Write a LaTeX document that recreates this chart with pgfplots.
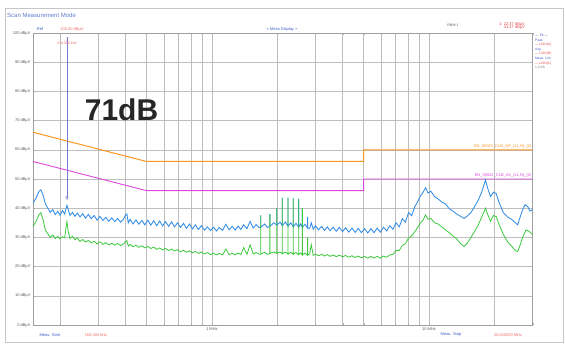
\documentclass[border=0pt]{standalone}
\usepackage{fontspec}
\setmainfont{Liberation Sans}
\usepackage{pgfplots}
\pgfplotsset{compat=1.18}
\definecolor{trblue}{RGB}{50,140,230}
\definecolor{trgreen}{RGB}{60,200,60}
\definecolor{limorange}{RGB}{250,150,30}
\definecolor{limmag}{RGB}{220,70,220}
\definecolor{gridc}{RGB}{190,190,190}
\definecolor{labblue}{RGB}{60,90,200}
\definecolor{labred}{RGB}{230,70,70}

\pgfplotstableread{
f db
0.150 41.7
0.155 43.5
0.160 45.8
0.163 46.3
0.167 44.5
0.171 41.5
0.175 40.2
0.180 38.6
0.185 39.5
0.190 37.8
0.195 38.9
0.200 37.6
0.205 39.2
0.210 38.0
0.213 40.0
0.215 41.0
0.218 39.5
0.222 37.5
0.228 38.6
0.234 37.2
0.240 38.3
0.247 37.0
0.254 38.1
0.262 36.6
0.270 37.9
0.278 36.4
0.287 37.5
0.296 35.9
0.305 37.2
0.315 35.8
0.325 36.9
0.335 35.5
0.346 36.7
0.357 35.4
0.368 36.5
0.380 35.2
0.392 36.3
0.400 37.6
0.406 38.0
0.412 35.0
0.420 36.2
0.433 34.6
0.447 36.0
0.461 34.5
0.476 35.8
0.491 34.3
0.507 35.9
0.523 34.2
0.540 35.7
0.557 34.0
0.575 35.6
0.593 33.9
0.612 35.4
0.632 33.8
0.652 35.3
0.673 33.6
0.695 35.0
0.717 33.4
0.740 34.8
0.764 33.1
0.789 34.6
0.814 32.9
0.840 34.3
0.867 32.7
0.895 34.0
0.924 32.5
0.954 33.6
0.985 32.3
1.017 33.5
1.05 32.2
1.08 33.4
1.12 32.4
1.16 34.5
1.20 32.6
1.24 33.8
1.28 32.5
1.32 33.9
1.36 32.7
1.40 34.3
1.45 33.0
1.50 35.5
1.55 33.2
1.60 34.4
1.65 33.3
1.68 33.5
1.68 37.5
1.68 33.5
1.75 34.6
1.80 33.4
1.85 33.8
1.85 38.0
1.85 33.8
1.93 35.0
1.99 34.2
1.99 40.0
1.99 34.2
2.06 35.2
2.11 34.0
2.11 43.5
2.11 34.0
2.18 35.3
2.24 33.8
2.24 43.6
2.24 33.8
2.31 35.0
2.37 33.6
2.37 43.4
2.37 33.6
2.44 34.8
2.51 33.5
2.51 43.2
2.51 33.5
2.56 34.6
2.61 33.4
2.61 40.0
2.61 33.4
2.68 34.5
2.76 33.2
2.76 37.0
2.76 33.2
2.82 33.1
2.87 35.0
2.93 32.8
3.00 34.0
3.10 32.6
3.20 33.8
3.30 32.4
3.40 33.6
3.50 32.3
3.62 33.5
3.74 32.1
3.86 33.4
4.00 32.0
4.13 33.3
4.27 31.8
4.42 33.2
4.57 31.7
4.72 33.1
4.88 31.6
5.05 33.0
5.22 31.5
5.40 33.0
5.58 31.6
5.77 33.2
5.97 31.8
6.17 33.5
6.38 32.2
6.60 34.0
6.82 32.8
7.05 35.0
7.29 33.6
7.54 36.4
7.79 35.2
8.05 38.5
8.32 37.4
8.60 40.5
8.80 41.8
9.10 44.0
9.40 45.5
9.64 47.0
9.90 45.2
10.2 45.8
10.6 44.0
11.0 43.2
11.5 42.0
11.9 41.5
12.4 39.8
12.9 39.0
13.4 38.0
14.0 37.2
14.5 36.5
15.0 37.3
15.6 38.5
16.2 40.5
16.8 42.5
17.5 45.5
18.2 49.7
18.6 47.0
19.2 44.0
19.8 45.5
20.4 45.0
21.0 42.0
22.0 38.5
23.0 37.0
24.0 36.2
25.0 35.0
25.6 34.3
26.3 37.0
27.0 39.5
27.7 41.2
28.5 40.5
29.2 39.0
30.0 39.5
}\peaktrace

\pgfplotstableread{
f db
0.150 33.7
0.155 35.5
0.160 37.8
0.163 38.5
0.167 36.0
0.171 32.5
0.175 31.4
0.180 30.0
0.185 30.8
0.190 29.6
0.195 30.3
0.200 29.5
0.205 30.2
0.210 29.9
0.213 33.5
0.215 35.4
0.218 32.0
0.222 29.6
0.228 30.4
0.234 29.2
0.240 29.8
0.247 28.6
0.254 29.3
0.262 28.4
0.270 29.0
0.278 28.1
0.287 28.7
0.296 27.8
0.305 28.5
0.315 27.6
0.325 28.2
0.335 27.4
0.346 28.0
0.357 27.3
0.368 27.9
0.380 27.2
0.392 27.8
0.400 28.6
0.406 28.9
0.412 27.0
0.420 27.6
0.433 26.8
0.447 27.3
0.461 26.6
0.476 27.1
0.491 26.4
0.507 26.9
0.523 26.2
0.540 26.7
0.557 25.9
0.575 26.4
0.593 25.7
0.612 26.2
0.632 25.5
0.652 26.0
0.673 25.3
0.695 25.8
0.717 25.1
0.740 25.6
0.764 24.9
0.789 25.4
0.814 24.7
0.840 25.2
0.867 24.5
0.895 25.0
0.924 24.3
0.954 24.8
0.985 24.1
1.017 24.6
1.05 24.0
1.08 24.5
1.12 24.0
1.16 26.0
1.20 24.1
1.24 24.6
1.28 24.0
1.32 24.7
1.36 24.1
1.40 26.5
1.45 24.2
1.50 27.5
1.55 24.3
1.60 24.8
1.65 24.2
1.68 24.3
1.68 37.5
1.68 24.3
1.75 24.9
1.80 24.2
1.85 24.5
1.85 38.0
1.85 24.5
1.93 25.0
1.99 24.5
1.99 40.0
1.99 24.5
2.06 25.0
2.11 24.4
2.11 43.5
2.11 24.4
2.18 25.0
2.24 24.3
2.24 43.6
2.24 24.3
2.31 24.9
2.37 24.2
2.37 43.4
2.37 24.2
2.44 24.8
2.51 24.1
2.51 43.2
2.51 24.1
2.56 24.7
2.61 24.0
2.61 40.0
2.61 24.0
2.68 24.6
2.76 23.9
2.76 30.0
2.76 23.9
2.82 24.4
2.87 27.5
2.93 23.8
3.00 24.3
3.10 23.7
3.20 24.2
3.30 23.6
3.40 24.1
3.50 23.5
3.62 24.0
3.74 23.4
3.86 23.9
4.00 23.4
4.13 23.8
4.27 23.2
4.42 23.7
4.57 23.1
4.72 23.6
4.88 23.0
5.05 23.5
5.22 22.9
5.40 23.5
5.58 22.9
5.77 23.5
5.97 22.9
6.17 23.6
6.38 23.2
6.60 24.0
6.82 24.2
7.05 25.5
7.29 25.5
7.54 27.3
7.79 27.8
8.05 29.8
8.32 30.5
8.60 32.0
8.80 33.0
9.10 34.8
9.40 36.0
9.64 37.7
9.90 36.2
10.2 36.5
10.6 35.0
11.0 34.6
11.5 33.5
11.9 32.6
12.4 31.6
12.9 30.5
13.4 29.5
14.0 27.8
14.5 26.9
15.0 28.0
15.6 30.0
16.2 32.0
16.8 34.0
17.5 37.0
18.2 40.0
18.6 38.0
19.2 35.5
19.8 37.5
20.4 37.1
21.0 34.5
22.0 31.0
23.0 28.5
24.0 27.0
25.0 25.5
25.6 25.1
26.3 27.5
27.0 30.0
28.0 32.6
29.0 32.0
30.0 30.9
}\avgtrace

\begin{document}
\begin{tikzpicture}
\useasboundingbox (0pt,0pt) rectangle (565pt,344pt);
\draw[gray!45, line width=0.9pt] (5pt,2pt) rectangle (563pt,336pt);
\node[anchor=west, text=labblue!80, font=\fontsize{6}{6}\selectfont, inner sep=0pt] at (7pt,329pt) {Scan Measurement Mode};
\begin{axis}[
  at={(33pt,19pt)}, anchor=south west, scale only axis,
  width=499.6pt, height=292pt,
  xmode=log, xmin=0.15, xmax=30, ymin=0, ymax=100,
  axis line style={gray!75, line width=0.5pt},
  grid=major, grid style={gridc, line width=0.4pt},
  ytick={0,10,20,30,40,50,60,70,80,90,100},
  yticklabels={0 dBµV,10 dBµV,20 dBµV,30 dBµV,40 dBµV,50 dBµV,60 dBµV,70 dBµV,80 dBµV,90 dBµV,100 dBµV},
  xtick={0.2,0.3,0.4,0.5,0.6,0.7,0.8,0.9,1,2,3,4,5,6,7,8,9,10,20,30},
  xticklabels={,,,,,,,,1 MHz,,,,,,,,,10 MHz,,},
  tick label style={font=\fontsize{4}{4}\selectfont, text=gray!70!black},
  yticklabel style={xshift=1pt},
  xticklabel style={yshift=1pt},
  tick style={gray!60}, major tick length=2pt,
  clip=false,
]
\addplot[limorange, line width=1pt] coordinates {(0.15,66) (0.5,56) (5,56) (5,60) (30,60)};
\addplot[limmag, line width=0.9pt] coordinates {(0.15,56) (0.5,46) (5,46) (5,50) (30,50)};
\addplot[trblue, line width=0.85pt] table[x=f, y=db] {\peaktrace};
\addplot[trgreen, line width=0.8pt] table[x=f, y=db] {\avgtrace};
\addplot[gray!50!blue!70, line width=0.4pt] coordinates {(0.215,43.5) (0.215,98.5)};
\addplot[gray!50!blue!70, only marks, mark=diamond, mark size=1.8pt, mark options={line width=0.4pt}] coordinates {(0.215,43.6)};
\node[anchor=south east, text=limorange, font=\fontsize{4}{4}\selectfont, inner sep=1pt] at (axis cs:30,60) {EN\_55022\_CLB\_QP\_(L1,N)\_(2)};
\node[anchor=south east, text=limmag, font=\fontsize{4}{4}\selectfont, inner sep=1pt] at (axis cs:30,50) {EN\_55022\_CLB\_AV\_(L1,N)\_(2)};
\end{axis}
% header texts
\node[text=labblue, font=\fontsize{4}{4}\selectfont] at (40pt,315pt) {Ref};
\node[text=labred!80, font=\fontsize{4}{4}\selectfont] at (72pt,315pt) {100.00 dBµV};
\node[text=labred!80, font=\fontsize{3.5}{4}\selectfont, align=center] at (67pt,302pt) {1\\[-1pt]214.000 kHz};
\node[text=labblue, font=\fontsize{4}{4}\selectfont] at (282pt,315pt) {< Meas Display >};
\node[text=gray!70!black, font=\fontsize{3.5}{4}\selectfont] at (453pt,319pt) {RBW 1};
\node[text=labred, font=\fontsize{4}{4.5}\selectfont, align=right] at (512pt,318pt) {1: 22.37 dBµV\\[-1pt]41.47 dBµV};
% right legend
\node[anchor=north west, font=\fontsize{3.3}{4.6}\selectfont, align=left, inner sep=0pt] at (535pt,310pt) {%
\textcolor{labblue}{—\, Pk —}\\
\textcolor{labblue}{Peak}\\
\textcolor{labred}{— LISN(A)}\\
\textcolor{labblue}{Avg}\\
\textcolor{labred}{— LISN(B)}\\
\textcolor{labblue}{Meas. Lim}\\
\textcolor{labred}{— LISN(C)}\\
\textcolor{gray}{1.0 dB}};
% bottom texts
\node[text=labblue, font=\fontsize{4}{4}\selectfont] at (50pt,9pt) {Meas. Start};
\node[text=labred!80, font=\fontsize{4}{4}\selectfont] at (96pt,9pt) {150.000 kHz};
\node[text=labblue, font=\fontsize{4}{4}\selectfont] at (451pt,9pt) {Meas. Stop};
\node[text=labred!80, font=\fontsize{4}{4}\selectfont] at (508pt,9pt) {30.000000 MHz};
% big annotation
\node[font=\fontsize{30}{30}\selectfont\bfseries, text=black!85] at (121.5pt,234.5pt) {71dB};
\end{tikzpicture}
\end{document}
